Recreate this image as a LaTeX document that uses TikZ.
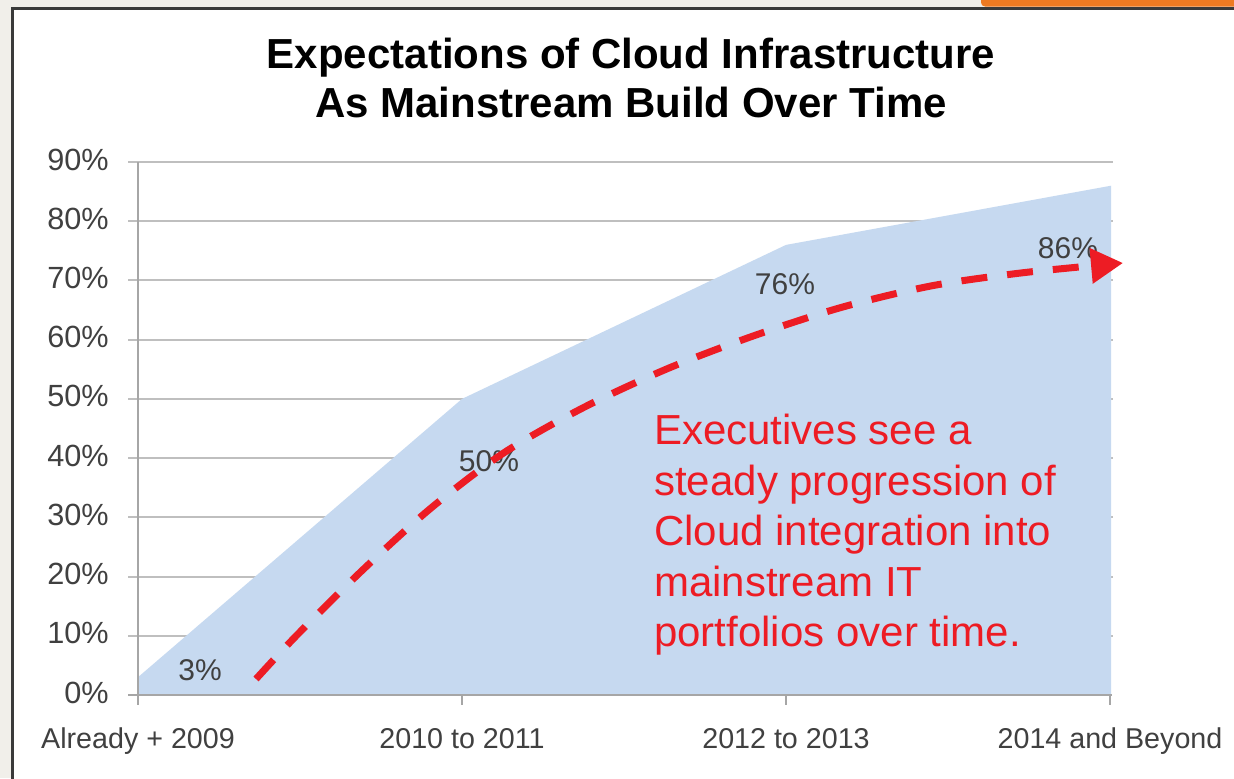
\documentclass[tikz,border=0pt]{standalone}
\usepackage{fontspec}
\setmainfont{Liberation Sans}
\usetikzlibrary{arrows.meta}
\definecolor{areablue}{HTML}{C6D9F0}
\definecolor{gridgray}{HTML}{BFBFBF}
\definecolor{axisgray}{HTML}{A6A6A6}
\definecolor{labgray}{HTML}{404040}
\definecolor{trendred}{HTML}{ED1C24}
\definecolor{taborange}{HTML}{EE7A22}
\definecolor{framegray}{HTML}{3A3A3A}
\definecolor{outside}{HTML}{F1EFEA}
\tikzset{%
	panel/.style={line width=2.25pt,draw=framegray,fill=white},
	gridline/.style={line width=1.5pt,draw=gridgray},
	axisline/.style={line width=1.5pt,draw=axisgray},
	ylab/.style={anchor=base east,inner sep=0pt,text=labgray,font=\fontsize{23}{27}\selectfont},
	xlab/.style={anchor=base,inner sep=0pt,text=labgray,font=\fontsize{21.5}{26}\selectfont},
	vallab/.style={anchor=base,inner sep=0pt,text=labgray,font=\fontsize{22.5}{26}\selectfont},
	charttitle/.style={anchor=north,align=center,inner sep=0pt,font=\bfseries\fontsize{31.5}{36.75}\selectfont},
	note/.style={anchor=north west,align=left,inner sep=0pt,text=trendred,font=\fontsize{31.5}{37.9}\selectfont},
	trend/.style={draw=trendred,line width=5.25pt,dash pattern=on 19.5pt off 15pt,-{Triangle[length=24pt,width=25.5pt]}}
}

\begin{document}
\begin{tikzpicture}[x=0.75pt,y=-0.75pt]
		\useasboundingbox (0,0) rectangle (1234,778);
		\clip (0,0) rectangle (1234,778);
		\fill [outside] (0,0) rectangle (1234,778);
		\fill [taborange,rounded corners=3pt] (981,-5) rectangle (1240,6.5);
		\draw [panel] (12,8.5) rectangle (1250,800);

		\foreach \p in {10,20,...,90}
			\draw [gridline] (128,{695-5.922*\p}) -- (1113,{695-5.922*\p});
		\foreach \p in {0,10,...,90}
			\node [ylab] (y\p) at (109,{703-5.922*\p}) {\p\%};

		\coordinate (p1) at (138,677.2);
		\coordinate (p2) at (462,398.9);
		\coordinate (p3) at (786,244.9);
		\coordinate (p4) at (1111,185.7);

		\fill [areablue] (138,695)--(p1)--(p2)--(p3)--(p4)--(1111,695)--cycle;

		\draw [axisline] (128,695)--(1112,695);
		\draw [axisline] (138,162)--(138,705);
		\foreach \x/\lab/\n in {138/Already + 2009/a,462/2010 to 2011/b,786/2012 to 2013/c,1110/2014 and Beyond/d}{
			\draw [axisline] (\x,695)--(\x,705);
			\node [xlab] (x\n) at (\x,748) {\lab};
		}

		\node [vallab] (v1) at (200,680) {3\%};
		\node [vallab] (v2) at (489,471) {50\%};
		\node [vallab] (v3) at (785,294) {76\%};
		\node [vallab] (v4) at (1068,258) {86\%};

		\draw [trend] plot [smooth] coordinates {(256,679) (296.7,635.3) (362.3,570.3) (430.7,508.3) (504,452.7) (584,407.3) (668.3,368.3) (754,335.7) (841.7,307.3) (932.3,285.7) (1023.3,272.7) (1123,263)};

		\node [charttitle] (title) at (631,37.3) {Expectations of Cloud Infrastructure\\As Mainstream Build Over Time};
		\node [note] (msg) at (654,414) {Executives see a\\steady progression of\\Cloud integration into\\mainstream IT\\portfolios over time.};

	\end{tikzpicture}
\end{document}
